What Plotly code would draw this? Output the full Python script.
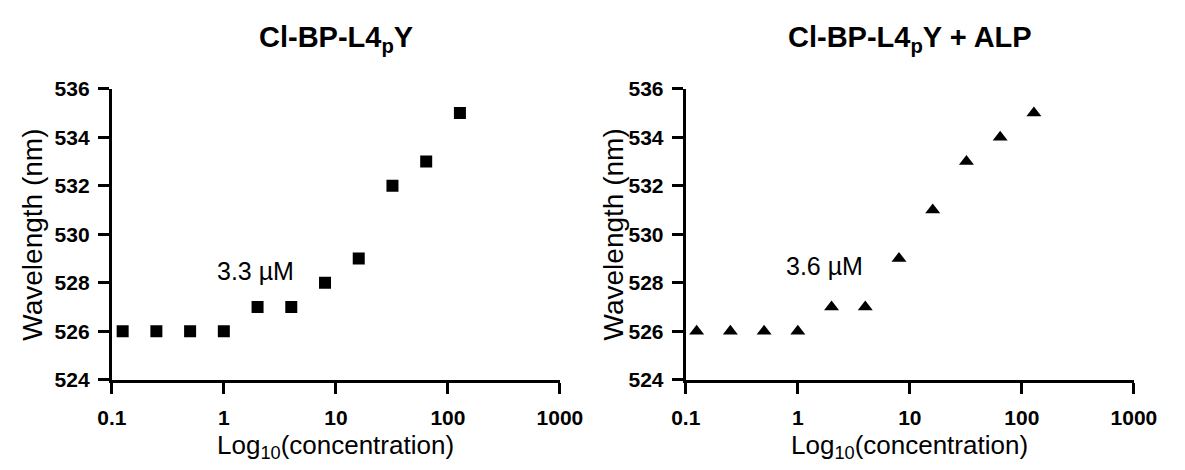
import math
import plotly.graph_objects as go

# ---- data ----
conc = [0.125, 0.25, 0.5, 1, 2, 4, 8, 16, 32, 64, 128]
wl_probe = [526, 526, 526, 526, 527, 527, 528, 529, 532, 533, 535]
wl_probe_alp = [526, 526, 526, 526, 527, 527, 529, 531, 533, 534, 535]
x_ticks = [0.1, 1, 10, 100, 1000]
x_ticklabels = ["0.1", "1", "10", "100", "1000"]
y_ticks = [524, 526, 528, 530, 532, 534, 536]
titles = ["Cl-BP-L4<sub>p</sub>Y", "Cl-BP-L4<sub>p</sub>Y + ALP"]
ec50_labels = ["3.3 µM", "3.6 µM"]
ec50_x = [1.9, 1.74]
ec50_y = [528.5, 528.7]

W, H = 1185, 470
FONT = "Liberation Sans, Arial, sans-serif"

fig = go.Figure()
fig.add_trace(go.Scatter(x=conc, y=wl_probe, mode="markers",
                         marker=dict(symbol="square", size=12, color="black"),
                         xaxis="x", yaxis="y", showlegend=False))
fig.add_trace(go.Scatter(x=conc, y=wl_probe_alp, mode="markers",
                         marker=dict(symbol="triangle-up", size=13, color="black"),
                         xaxis="x2", yaxis="y2", showlegend=False))

px_dom = [(100, 563), (693, 1156)]
ytop, ybot = 80.7, 386.7
ydom = [(H - ybot) / H, (H - ytop) / H]

tickfont = dict(family=FONT, size=21, color="black", weight="bold")
common_x = dict(type="log", range=[-1, 3], tickvals=x_ticks, ticktext=x_ticklabels,
                showline=True, linewidth=3, linecolor="black", ticks="outside",
                ticklen=11, tickwidth=3, tickcolor="black", showgrid=False,
                zeroline=False, tickfont=tickfont, ticklabelstandoff=6, fixedrange=True)
common_y = dict(range=[524, 536], tickvals=y_ticks, showline=True, linewidth=3,
                linecolor="black", ticks="outside", ticklen=11, tickwidth=3,
                tickcolor="black", showgrid=False, zeroline=False, tickfont=tickfont,
                ticklabelstandoff=4, fixedrange=True)

fig.update_layout(
    width=W, height=H, margin=dict(l=0, r=0, t=0, b=0),
    paper_bgcolor="white", plot_bgcolor="white",
    xaxis=dict(domain=[px_dom[0][0] / W, px_dom[0][1] / W], anchor="y", **common_x),
    yaxis=dict(domain=ydom, anchor="x", **common_y),
    xaxis2=dict(domain=[px_dom[1][0] / W, px_dom[1][1] / W], anchor="y2", **common_x),
    yaxis2=dict(domain=ydom, anchor="x2", **common_y),
)

ytitle_x = [18, 618]
ann = []
for i, (x0, x1) in enumerate(px_dom):
    cx = (x0 + x1) / 2 / W
    ann.append(dict(x=cx, y=(H - 28) / H, xref="paper", yref="paper", text=titles[i],
                    showarrow=False, xanchor="center", yanchor="middle",
                    font=dict(family=FONT, size=29, color="black", weight="bold")))
    ann.append(dict(x=cx, y=(H - 457) / H, xref="paper", yref="paper",
                    text="Log<sub>10</sub>(concentration)", showarrow=False,
                    xanchor="center", yanchor="middle",
                    font=dict(family=FONT, size=26, color="black")))
    ann.append(dict(x=ytitle_x[i] / W, y=(H - (ytop + ybot) / 2) / H, xref="paper", yref="paper",
                    text="Wavelength (nm)", showarrow=False, textangle=-90,
                    xanchor="center", yanchor="middle",
                    font=dict(family=FONT, size=28, color="black")))
    xr = "x" if i == 0 else "x2"
    yr = "y" if i == 0 else "y2"
    ann.append(dict(x=math.log10(ec50_x[i]), y=ec50_y[i], xref=xr, yref=yr,
                    text=ec50_labels[i], showarrow=False, xanchor="center", yanchor="middle",
                    font=dict(family=FONT, size=25, color="black")))
fig.update_layout(annotations=ann)

fig.write_html("out.html")
